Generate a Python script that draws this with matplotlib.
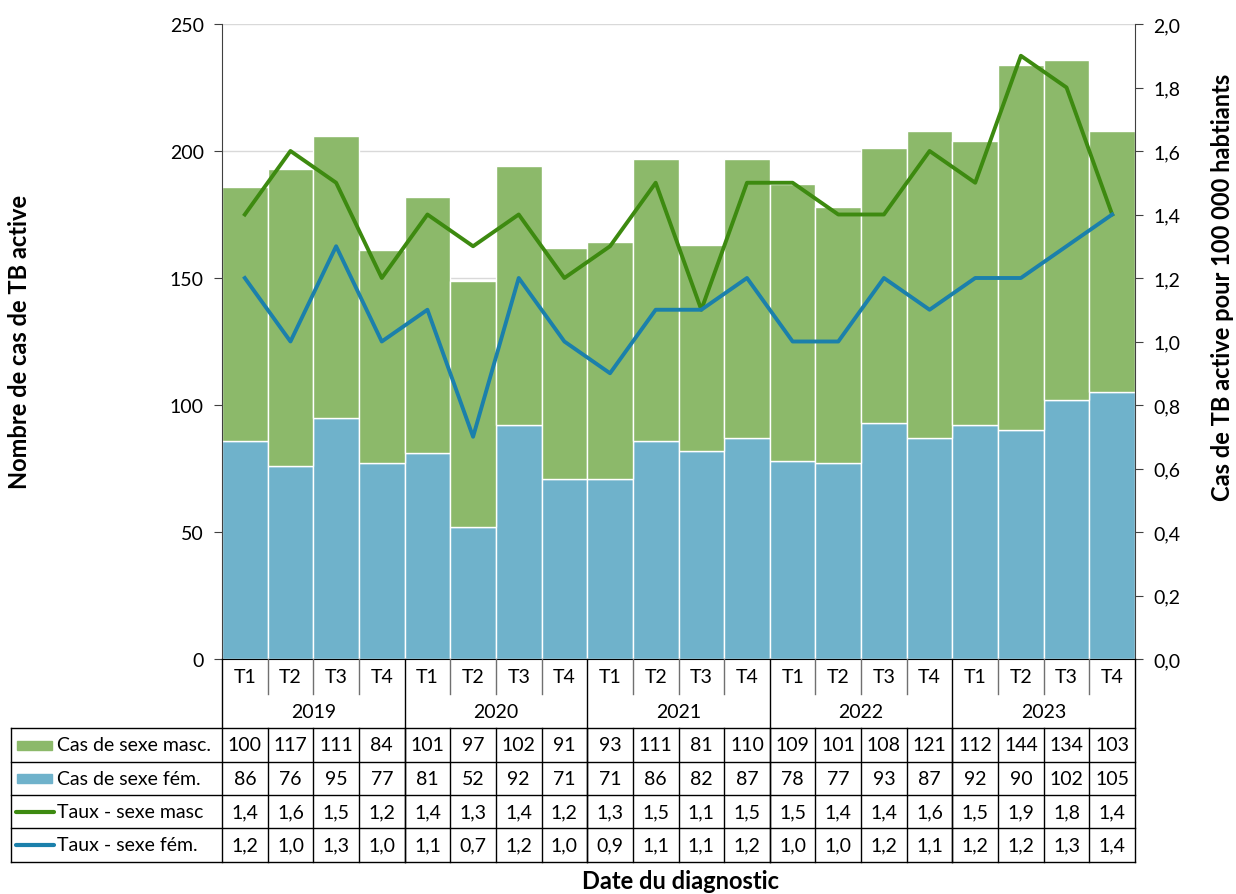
import numpy as np
import matplotlib
matplotlib.use("Agg")
import matplotlib.pyplot as plt
from matplotlib.transforms import blended_transform_factory
from matplotlib.lines import Line2D
from matplotlib.patches import Rectangle

plt.rcParams['font.family'] = ['Lato', 'DejaVu Sans']

years = ['2019', '2020', '2021', '2022', '2023']
quarters = ['T1', 'T2', 'T3', 'T4']
cas_masc = [100, 117, 111, 84, 101, 97, 102, 91, 93, 111, 81, 110, 109, 101, 108, 121, 112, 144, 134, 103]
cas_fem = [86, 76, 95, 77, 81, 52, 92, 71, 71, 86, 82, 87, 78, 77, 93, 87, 92, 90, 102, 105]
taux_masc = [1.4, 1.6, 1.5, 1.2, 1.4, 1.3, 1.4, 1.2, 1.3, 1.5, 1.1, 1.5, 1.5, 1.4, 1.4, 1.6, 1.5, 1.9, 1.8, 1.4]
taux_fem = [1.2, 1.0, 1.3, 1.0, 1.1, 0.7, 1.2, 1.0, 0.9, 1.1, 1.1, 1.2, 1.0, 1.0, 1.2, 1.1, 1.2, 1.2, 1.3, 1.4]

c_green = '#8cb96a'
c_blue = '#6fb2cb'
c_lgreen = '#3d8a10'
c_lblue = '#1b80ab'

W, H = 1236, 895
fig = plt.figure(figsize=(W / 100, H / 100), dpi=100)

def fy(p):
    return 1 - p / H

def fx(p):
    return p / W

ax = fig.add_axes([fx(222), fy(660), fx(1135) - fx(222), fy(25) - fy(660)])
x = np.arange(len(cas_fem))
ax.bar(x, cas_fem, width=1.0, color=c_blue, edgecolor='white', linewidth=1, zorder=2)
ax.bar(x, cas_masc, width=1.0, bottom=cas_fem, color=c_green, edgecolor='white', linewidth=1, zorder=2)
ax.set_xlim(-0.5, 19.5)
ax.set_ylim(0, 250)
ax.set_yticks(np.arange(0, 251, 50))
ax.yaxis.grid(True, color='#d9d9d9', linewidth=1, zorder=0)
ax.set_axisbelow(True)
ax.set_xticks([])
for s in ['top', 'right']:
    ax.spines[s].set_visible(False)
ax.spines['left'].set_color('#404040')
ax.spines['bottom'].set_color('black')
ax.tick_params(axis='y', labelsize=14, length=6, color='#404040', pad=7)

ax2 = ax.twinx()
ax2.plot(x, taux_masc, color=c_lgreen, linewidth=2.8, zorder=3)
ax2.plot(x, taux_fem, color=c_lblue, linewidth=2.8, zorder=3)
ax2.set_ylim(0, 2.0)
ax2.set_yticks(np.arange(0, 2.01, 0.2))
ax2.set_yticklabels([f"{v:.1f}".replace('.', ',') for v in np.arange(0, 2.01, 0.2)])
for s in ['top', 'left', 'bottom']:
    ax2.spines[s].set_visible(False)
ax2.spines['right'].set_color('#404040')
ax2.tick_params(axis='y', labelsize=14, length=6, color='#404040', pad=7)

# table below the chart
tr = blended_transform_factory(ax.transData, fig.transFigure)
tf = fig.transFigure
lc = 'black'
fs = 14

def hline(x0, x1, ypx, color=lc, lw=1.0):
    fig.add_artist(Line2D([fx(x0), fx(x1)], [fy(ypx), fy(ypx)], transform=tf, color=color, lw=lw))

def vline_data(xd, y0, y1, color=lc, lw=1.0):
    fig.add_artist(Line2D([xd, xd], [fy(y0), fy(y1)], transform=tr, color=color, lw=lw))

# quarter labels
for i in range(len(x)):
    ax.text(i, fy(678), quarters[i % 4], transform=tr, ha='center', va='center', fontsize=fs)
for k, yr in enumerate(years):
    ax.text(4 * k + 1.5, fy(713), yr, transform=tr, ha='center', va='center', fontsize=fs)
for i in range(1, 20):
    if i % 4 != 0:
        vline_data(i - 0.5, 660, 695, color='#707070')
for k in range(6):
    vline_data(4 * k - 0.5, 660, 863)

row_y = [729, 763, 796, 829, 863]
for yp in row_y:
    hline(11, 1135, yp)
fig.add_artist(Line2D([fx(11), fx(11)], [fy(729), fy(863)], transform=tf, color=lc, lw=1.0))
for i in range(1, 20):
    vline_data(i - 0.5, 729, 863)

labels = ['Cas de sexe masc.', 'Cas de sexe fém.', 'Taux - sexe masc', 'Taux - sexe fém.']
rows = [[str(v) for v in cas_masc], [str(v) for v in cas_fem],
        [f"{v:.1f}".replace('.', ',') for v in taux_masc],
        [f"{v:.1f}".replace('.', ',') for v in taux_fem]]
for r in range(4):
    yc = fy((row_y[r] + row_y[r + 1]) / 2)
    for i, val in enumerate(rows[r]):
        ax.text(i, yc, val, transform=tr, ha='center', va='center', fontsize=fs)
    fig.text(fx(57), yc, labels[r], ha='left', va='center', fontsize=fs)

# legend keys
for r, c in enumerate([c_green, c_blue]):
    yc = (row_y[r] + row_y[r + 1]) / 2
    fig.add_artist(Rectangle((fx(17), fy(yc + 4.5)), fx(35), 9 / H, transform=tf, color=c))
for r, c in zip([2, 3], [c_lgreen, c_lblue]):
    yc = fy((row_y[r] + row_y[r + 1]) / 2)
    fig.add_artist(Line2D([fx(16), fx(54)], [yc, yc], transform=tf, color=c, lw=3, solid_capstyle='round'))

fig.text(fx(680), fy(882), 'Date du diagnostic', ha='center', va='center', fontsize=17, fontweight='bold')
fig.text(fx(20), fy(342), 'Nombre de cas de TB active', ha='center', va='center', rotation=90,
         fontsize=17, fontweight='bold')
fig.text(fx(1222), fy(287), 'Cas de TB active pour 100 000 habtiants', ha='center', va='center', rotation=90,
         fontsize=17, fontweight='bold')

fig.savefig('out.png', dpi=100)
